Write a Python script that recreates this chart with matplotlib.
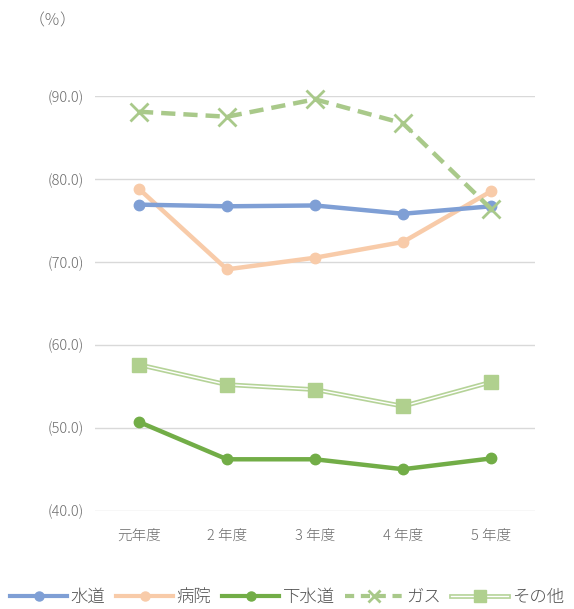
import matplotlib.pyplot as plt
from matplotlib.lines import Line2D

plt.rcParams['font.family'] = ['Noto Sans CJK JP', 'DejaVu Sans']
plt.rcParams['font.weight'] = 'light'

# data
years = ['元年度', '2 年度', '3 年度', '4 年度', '5 年度']
suido = [76.9, 76.7, 76.8, 75.8, 76.7]
byoin = [78.8, 69.1, 70.5, 72.4, 78.5]
gesuido = [50.7, 46.2, 46.2, 45.0, 46.3]
gas = [88.1, 87.5, 89.6, 86.7, 76.4]
sonota = [57.6, 55.2, 54.6, 52.6, 55.5]
yticks = [40, 50, 60, 70, 80, 90]

c_blue = '#7f9fd5'
c_orange = '#f8cba9'
c_green = '#72ad47'
c_gas = '#a9c98a'
c_other = '#b5d398'
c_other_m = '#b0d08e'
c_text = '#6b6b6b'
gas_dash = (0, (3.2, 1.8))

fig = plt.figure(figsize=(5.74, 6.09), dpi=100)
ax = fig.add_axes([0.1655, 0.1614, 0.7665, 0.681])
x = list(range(len(years)))

ax.plot(x, suido, color=c_blue, lw=3.2, marker='o', ms=7.5, zorder=4, clip_on=False)
ax.plot(x, byoin, color=c_orange, lw=3.2, marker='o', ms=7.5, zorder=3, clip_on=False)
ax.plot(x, gesuido, color=c_green, lw=3.2, marker='o', ms=7.5, zorder=3, clip_on=False)
ax.plot(x, gas, color=c_gas, lw=3.2, ls=gas_dash, marker='x', ms=13, mew=2,
        zorder=5, clip_on=False)
ax.plot(x, sonota, color=c_other, lw=3.4, zorder=3, clip_on=False)
ax.plot(x, sonota, color='white', lw=1.0, zorder=3, clip_on=False)
ax.plot(x, sonota, color=c_other_m, lw=0, marker='s', ms=10, zorder=4, clip_on=False)

ax.set_xlim(-0.5, 4.5)
ax.set_ylim(40, 90)
ax.set_yticks(yticks)
ax.set_yticklabels(['(%.1f)' % v for v in yticks])
ax.set_xticks(x)
ax.set_xticklabels(years, fontsize=11.5)
ax.grid(axis='y', color='#d9d9d9', lw=1)
ax.set_axisbelow(True)
for s in ax.spines.values():
    s.set_visible(False)
ax.tick_params(length=0, labelsize=10.5, colors=c_text, pad=8)
ax.tick_params(axis='x', pad=13)

fig.text(0.092, 0.966, '（％）', fontsize=11.5, color=c_text, ha='center', va='center')

h1 = Line2D([], [], color=c_blue, lw=3, marker='o', ms=6.5)
h2 = Line2D([], [], color=c_orange, lw=3, marker='o', ms=6.5)
h3 = Line2D([], [], color=c_green, lw=3, marker='o', ms=6.5)
h4 = Line2D([], [], color=c_gas, lw=3, ls=(0, (2.2, 1.6)), marker='x', ms=9, mew=2)
h5a = Line2D([], [], color=c_other, lw=3.4)
h5b = Line2D([], [], color='white', lw=1.0)
h5c = Line2D([], [], color=c_other_m, lw=0, marker='s', ms=9)
fig.legend([h1, h2, h3, h4, (h5a, h5b, h5c)], ['水道', '病院', '下水道', 'ガス', 'その他'],
           loc='center', bbox_to_anchor=(0.5, 0.02), ncol=5, frameon=False,
           fontsize=12.5, handlelength=3.3, handletextpad=0.2, columnspacing=0.6,
           labelcolor='#505050')

fig.savefig('out.png', dpi=100)
